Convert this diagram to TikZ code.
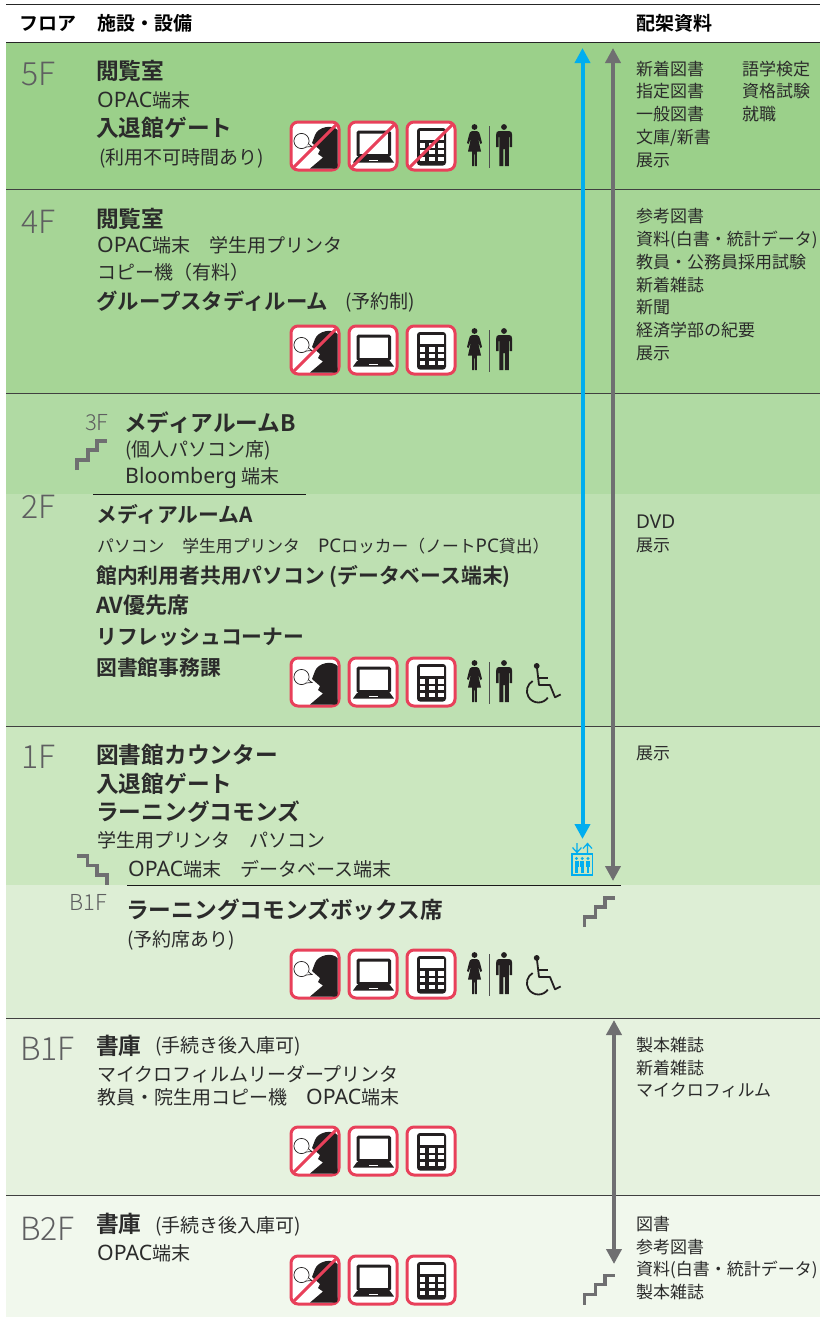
\documentclass[tikz,border=0pt]{standalone}
\usepackage{fontspec}
\setmainfont{Noto Sans CJK JP}[BoldFont={Noto Sans CJK JP Bold}]
\newfontfamily\latn{Noto Sans}[Scale=1.12]
\newfontfamily\thinf{Noto Sans CJK JP Light}
\newcommand{\lat}[1]{{\latn #1}}
\usetikzlibrary{arrows.meta}
\definecolor{ctext}{HTML}{2B2B2B}
\definecolor{cgray}{HTML}{6F6F71}
\definecolor{cfloor}{HTML}{5E5E60}
\definecolor{cblue}{HTML}{00AEEF}
\definecolor{cred}{HTML}{E8405A}
\definecolor{cicon}{HTML}{231F20}
\definecolor{bA}{HTML}{9BD08A}
\definecolor{bB}{HTML}{A6D596}
\definecolor{bC}{HTML}{B0DAA3}
\definecolor{bD}{HTML}{BEE0B2}
\definecolor{bE}{HTML}{CBE7BF}
\definecolor{bF}{HTML}{DDEED5}
\definecolor{bG}{HTML}{E6F2DF}
\definecolor{bH}{HTML}{F1F8ED}
\tikzset{
 x=1pt,y=-1pt,
 band/.style={fill=#1,draw=none},
 divider/.style={draw=black!75,line width=0.6pt},
 rule/.style={draw=black!90,line width=0.8pt},
 head/.style={anchor=base west,inner sep=0,font=\fontsize{19}{19}\selectfont\bfseries,text=black},
 big/.style={anchor=base west,inner sep=0,xshift=-1pt,font=\fontsize{22.7}{22}\selectfont\bfseries,text=ctext},
 mid/.style={big,font=\fontsize{20.8}{21}\selectfont\bfseries},
 txt/.style={anchor=base west,inner sep=0,font=\fontsize{19}{19}\selectfont,text=ctext},
 shelf/.style={anchor=base west,inner sep=0,font=\fontsize{17}{17}\selectfont,text=ctext},
 floor/.style={anchor=base west,inner sep=0,font=\thinf\fontsize{32}{32}\selectfont,text=cfloor},
 subfloor/.style={anchor=base west,inner sep=0,font=\thinf\fontsize{22}{22}\selectfont,text=cfloor},
 stairs/.style={draw=cgray,line width=3.6pt,miter limit=10},
 larrow/.style={line width=4pt,{Triangle[width=15pt,length=15pt]}-{Triangle[width=15pt,length=15pt]}},
 ibox/.style={draw=cred,line width=3pt,fill=white,rounded corners=7pt},
 ink/.style={fill=cicon,draw=none},
 slash/.style={draw=cred,line width=3pt},
 talk/.pic={
  \path[ibox] (0,0) rectangle (48,48);
  \path[ink] (19,46.5) -- (32,35.5) -- (27,32) -- (29,28) -- (21,21) -- (24,13) .. controls (27,5) and (41,2) .. (46.5,8) -- (46.5,44) .. controls (46.5,46) and (46,46.5) .. (44,46.5) -- cycle;
  \draw[cicon,line width=0.7pt,fill=white] (10.5,19) circle[radius=7.6];
  \draw[cicon,line width=0.7pt,fill=white] (15,25) -- (21,24.5) -- (17.5,22);
 },
 pc/.pic={
  \path[ibox] (0,0) rectangle (48,48);
  \draw[cicon,line width=3pt,rounded corners=1pt] (9,10) rectangle (40.5,33.5);
  \path[ink] (8,35) -- (41,35) -- (45,40.5) -- (4,40.5) -- cycle;
  \path[fill=white] (20,37.5) rectangle (29,39);
 },
 calc/.pic={
  \path[ibox] (0,0) rectangle (48,48);
  \path[ink,rounded corners=3pt] (10,6) rectangle (39,43.5);
  \path[fill=white] (12.5,9.3) rectangle (36.7,17.7);
  \foreach \cx in {12.5,22,31}{\foreach \cy in {21,27.5,34.5}{\path[fill=white] (\cx,\cy) rectangle ++(5.7,4.5);}}
 },
 nope/.pic={\draw[slash] (3,45) -- (45,3);},
 wc/.pic={
  \path[ink] (7.5,5) circle[radius=2.9];
  \path[ink] (5,9) -- (10,9) .. controls (12,9.5) and (12.5,11) .. (13,13) -- (15,21) -- (13.5,22) -- (11,16) -- (14,29.5) -- (10,29.5) -- (9.8,44) -- (8,44) -- (7.7,30) -- (7.3,30) -- (7,44) -- (5.2,44) -- (5,29.5) -- (1,29.5) -- (4,16) -- (1.5,22) -- (0,21) -- (2,13) .. controls (2.5,11) and (3,9.5) .. (5,9) -- cycle;
  \path[ink] (37,5) circle[radius=2.9];
  \path[ink] (32,9) -- (42,9) .. controls (44.5,9) and (45,10.5) .. (45,12.5) -- (45,25) -- (42.6,25) -- (42.6,15) -- (41.8,15) -- (41.8,44) -- (37.8,44) -- (37.8,27) -- (36.4,27) -- (36.4,44) -- (32.4,44) -- (32.4,15) -- (31.6,15) -- (31.6,25) -- (29.2,25) -- (29.2,12.5) .. controls (29.2,10.5) and (29.7,9) .. (32,9) -- cycle;
  \draw[cgray!70!black,line width=0.9pt] (22,4) -- (22,45.5);
 },
 chair/.pic={
  \path[ink] (9.7,2.9) circle[radius=2.9];
  \draw[cicon,line width=1.8pt,line join=round] (9.9,4) -- (12,22) -- (23,22) -- (28,34.3) -- (33.7,31.5);
  \draw[cicon,line width=1.8pt] (10.7,15.3) -- (21.4,15.3);
  \draw[cicon,line width=1.8pt] (11.4,28) ++(240:11.5) arc[start angle=240,end angle=35,radius=11.5];
 },
 stepsup/.pic={\draw[stairs] (0,29) -- (0,19) -- (11,19) -- (11,9) -- (20.5,9) -- (20.5,0) -- (30,0);},
 stepsdown/.pic={\draw[stairs] (0,0) -- (10.5,0) -- (10.5,9.5) -- (20,9.5) -- (20,19) -- (30,19) -- (30,29);},
 lift/.pic={
  \draw[cblue,line width=1.6pt] (0,11) rectangle (20.5,32);
  \foreach \cx in {4.5,10.2,16}{
   \path[fill=cblue] (\cx,15.5) circle[radius=1.6];
   \path[fill=cblue] (\cx-2,17.5) rectangle (\cx+2,24);
   \path[fill=cblue] (\cx-1.3,24) rectangle (\cx+1.3,29.5);
  }
  \draw[cblue,line width=1.2pt] (5,0) -- (5,9) (0.5,4.5) -- (5,9.5) -- (9.5,4.5);
  \draw[cblue,line width=1.2pt] (15.5,10) -- (15.5,1) (11,5.5) -- (15.5,0.5) -- (20,5.5);
 },
}
\begin{document}
\begin{tikzpicture}
\useasboundingbox (0,0) rectangle (820,1317);
\path[fill=white] (0,0) rectangle (820,1317);
% bands
\path[band=bA] (6,43) rectangle (820,189.5);
\path[band=bB] (6,189.5) rectangle (820,393.5);
\path[band=bC] (6,393.5) rectangle (820,494);
\path[band=bD] (6,494) rectangle (820,726.5);
\path[band=bE] (6,726.5) rectangle (820,885);
\path[band=bF] (6,885) rectangle (820,1018);
\path[band=bG] (6,1018) rectangle (820,1195.5);
\path[band=bH] (6,1195.5) rectangle (820,1317);
% rules
\draw[black!85,line width=1.6pt] (6,4.5) -- (820,4.5);
\draw[black!85,line width=1.6pt] (6,42.5) -- (820,42.5);
\foreach \ry in {189.5,393.5,726.5,1018,1195.5}{\draw[divider] (6,\ry) -- (820,\ry);}
\draw[rule] (93,494.5) -- (306,494.5);
\draw[rule] (127,885) -- (621,885);
% header
\node[head] (hf) at (19,30) {フロア};
\node[head] (hs) at (97,30) {施設・設備};
\node[head] (hb) at (636,30) {配架資料};
% 5F
\node[floor] (f5) at (21,85) {5F};
\node[big] (a1) at (97,79) {閲覧室};
\node[txt] (a2) at (97,107) {\lat{OPAC}端末};
\node[big] (a3) at (97,136) {入退館ゲート};
\node[txt] (a4) at (99,164) {(利用不可時間あり)};
\node[shelf] (s1) at (636,75) {新着図書};
\node[shelf] (s2) at (636,97) {指定図書};
\node[shelf] (s3) at (636,120) {一般図書};
\node[shelf] (s4) at (636,143) {文庫/新書};
\node[shelf] (s5) at (636,166) {展示};
\node[shelf] (s6) at (742,75) {語学検定};
\node[shelf] (s7) at (742,97) {資格試験};
\node[shelf] (s8) at (742,120) {就職};
\pic at (291,122) {talk}; \pic at (349,122) {pc}; \pic at (407,122) {calc};
\pic at (291,122) {nope}; \pic at (349,122) {nope}; \pic at (407,122) {nope};
\pic at (467,122) {wc};
% 4F
\node[floor] (f4) at (21,233) {4F};
\node[big] (b1) at (97,227) {閲覧室};
\node[txt] (b2) at (97,252) {\lat{OPAC}端末　学生用プリンタ};
\node[txt] (b3) at (97,279) {コピー機（有料）};
\node[mid,font=\fontsize{21.4}{21}\selectfont\bfseries] (b4) at (97,309) {グループスタディルーム};
\node[txt] (b5) at (345,308) {(予約制)};
\node[shelf] (t1) at (636,222) {参考図書};
\node[shelf] (t2) at (636,245) {資料(白書・統計データ)};
\node[shelf] (t3) at (636,268) {教員・公務員採用試験};
\node[shelf] (t4) at (636,291) {新着雑誌};
\node[shelf] (t5) at (636,313) {新聞};
\node[shelf] (t6) at (636,336) {経済学部の紀要};
\node[shelf] (t7) at (636,359) {展示};
\pic at (291,326) {talk}; \pic at (349,326) {pc}; \pic at (407,326) {calc};
\pic at (291,326) {nope};
\pic at (467,326) {wc};
% 3F
\node[subfloor] (f3) at (85,430) {3F};
\node[big] (c1) at (125,431) {メディアルームB};
\node[txt] (c2) at (125,456) {(個人パソコン席)};
\node[txt] (c3) at (125,483) {\lat{Bloomberg} 端末};
\pic at (76.7,441) {stepsup};
% 2F
\node[floor] (f2) at (21,518) {2F};
\node[mid] (d1) at (97,522) {メディアルームA};
\node[txt,font=\fontsize{16.8}{17}\selectfont] (d2) at (97,552) {パソコン\hspace{18pt}学生用プリンタ\hspace{18pt}\lat{PC}ロッカー（ノート\lat{PC}貸出）};
\node[mid] (d3) at (97,583) {館内利用者共用パソコン (データベース端末)};
\node[mid] (d4) at (97,613) {\fontsize{22}{22}\selectfont AV優先席};
\node[mid] (d5) at (97,644) {リフレッシュコーナー};
\node[mid] (d6) at (97,675) {図書館事務課};
\node[shelf] (u1) at (636,528) {\lat{DVD}};
\node[shelf] (u2) at (636,551) {展示};
\pic at (291,658) {talk}; \pic at (349,658) {pc}; \pic at (407,658) {calc};
\pic at (467,658) {wc}; \pic at (527,663) {chair};
% 1F
\node[floor] (f1) at (21,768) {1F};
\node[big] (e1) at (97,763) {図書館カウンター};
\node[big] (e2) at (97,792) {入退館ゲート};
\node[big] (e3) at (97,820) {ラーニングコモンズ};
\node[txt] (e4) at (97,847) {学生用プリンタ　パソコン};
\node[txt] (e5) at (128,876) {\lat{OPAC}端末　データベース端末};
\node[shelf] (v1) at (636,759) {展示};
\pic at (77,856) {stepsdown};
\pic at (572,843) {lift};
% B1 part
\node[subfloor] (f0) at (69,910) {B1F};
\node[big] (g1) at (127,918) {ラーニングコモンズボックス席};
\node[txt] (g2) at (127,946) {(予約席あり)};
\pic at (584.5,898) {stepsup};
\pic at (291,950) {talk}; \pic at (349,950) {pc}; \pic at (407,950) {calc};
\pic at (467,950) {wc}; \pic at (527,955) {chair};
% B1F
\node[floor] (f6) at (20,1060) {B1F};
\node[big] (h1) at (97,1054) {書庫};
\node[txt] (h2) at (155,1052) {(手続き後入庫可)};
\node[txt] (h3) at (97,1081) {マイクロフィルムリーダープリンタ};
\node[txt] (h4) at (97,1104) {教員・院生用コピー機　\lat{OPAC}端末};
\node[shelf] (w1) at (636,1051) {製本雑誌};
\node[shelf] (w2) at (636,1074) {新着雑誌};
\node[shelf] (w3) at (636,1096) {マイクロフィルム};
\pic at (291,1127) {talk}; \pic at (349,1127) {pc}; \pic at (407,1127) {calc};
\pic at (291,1127) {nope};
% B2F
\node[floor] (f7) at (20,1240) {B2F};
\node[big] (i1) at (97,1232) {書庫};
\node[txt] (i2) at (155,1232) {(手続き後入庫可)};
\node[txt] (i3) at (97,1260) {\lat{OPAC}端末};
\node[shelf] (x1) at (636,1230) {図書};
\node[shelf] (x2) at (636,1253) {参考図書};
\node[shelf] (x3) at (636,1275) {資料(白書・統計データ)};
\node[shelf] (x4) at (636,1298) {製本雑誌};
\pic at (291,1256) {talk}; \pic at (349,1256) {pc}; \pic at (407,1256) {calc};
\pic at (291,1256) {nope};
\pic at (584.5,1275.5) {stepsup};
% arrows
\coordinate (blueT) at (582.5,48);
\coordinate (blueB) at (582.5,839);
\coordinate (grayT) at (613,48);
\coordinate (grayB) at (613,881);
\coordinate (gray2T) at (614,1020);
\coordinate (gray2B) at (614,1264);
\draw[larrow,draw=cgray,fill=cgray] (grayT) -- (grayB);
\draw[larrow,draw=cblue,fill=cblue] (blueT) -- (blueB);
\draw[larrow,draw=cgray,fill=cgray] (gray2T) -- (gray2B);
\end{tikzpicture}
\end{document}
